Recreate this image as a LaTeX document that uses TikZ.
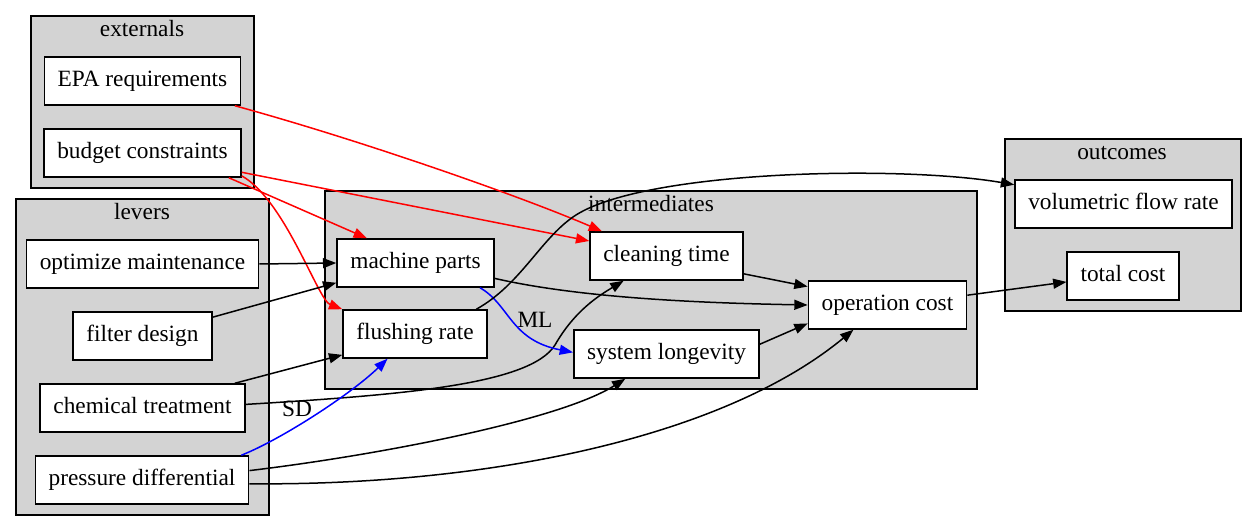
\documentclass[tikz,border=0pt]{standalone}
\usepackage{fontspec}
\setmainfont{Liberation Serif}
\usetikzlibrary{arrows.meta}
\definecolor{clustergray}{RGB}{211, 211, 211}

\tikzset{
  box/.style={draw=black, fill=white, line width=0.9pt, minimum height=28.8pt, inner xsep=8pt,
              text height=9.8pt, text depth=3pt, font=\fontsize{14}{17}\selectfont},
  cluster/.style={draw=black, fill=clustergray, line width=0.9pt},
  title/.style={inner sep=0pt, text height=9.8pt, text depth=3pt, font=\fontsize{14}{17}\selectfont},
  edge/.style={line width=0.9pt, -{Triangle[length=8pt, width=6pt]}},
}

\begin{document}
\begin{tikzpicture}[x=0.6pt, y=-0.6pt]
            \useasboundingbox (0,0) rectangle (1257,531);
            % clusters
            \filldraw[cluster] (  31, 16) rectangle ( 254,188);
            \filldraw[cluster] (  16,199) rectangle ( 269,515);
            \filldraw[cluster] ( 325,191) rectangle ( 977,389);
            \filldraw[cluster] (1005,139) rectangle (1241,311);
            \node[title] (externals)     at ( 142, 31) {externals};
            \node[title] (levers)        at ( 142,214) {levers};
            \node[title] (intermediates) at ( 651,206) {intermediates};
            \node[title] (outcomes)      at (1122,154) {outcomes};
            % nodes
            \node[box] (epa)  at ( 142.5, 81) {EPA requirements};
            \node[box] (bud)  at ( 142.5,153) {budget constraints};
            \node[box] (opt)  at ( 142.5,264) {optimize maintenance};
            \node[box] (fil)  at ( 142.5,336) {filter design};
            \node[box] (chm)  at ( 142.5,408) {chemical treatment};
            \node[box] (prs)  at ( 142,  480) {pressure differential};
            \node[box] (mach) at ( 415.5,263) {machine parts};
            \node[box] (flu)  at ( 415,  334) {flushing rate};
            \node[box] (cln)  at ( 666.5,256) {cleaning time};
            \node[box] (sys)  at ( 666.5,354) {system longevity};
            \node[box] (opc)  at ( 887.5,305) {operation cost};
            \node[box] (vol)  at (1123.5,204) {volumetric flow rate};
            \node[box] (tot)  at (1123,  276) {total cost};
            % edges from externals
            \draw[edge, red]  (epa.-15) .. controls (360,140) and (520,196) .. (cln.159);
            \draw[edge, red]  (bud.-11) -- (cln.169);
            \draw[edge, red]  (bud.-16) -- (mach.153);
            \draw[edge, red]  (bud.-13) .. controls (285,200) and (318,300) .. (flu.north west);
            % edges from levers
            \draw[edge]       (opt.east) -- (mach.west);
            \draw[edge]       (fil.15) -- (mach.194);
            \draw[edge]       (chm.15) -- (flu.196);
            \draw[edge]       (chm.2) .. controls (400,395) and (530,385) .. (555,345)
                                      .. controls (575,310) and (600,295) .. (cln.210);
            \draw[edge]       (prs.5) .. controls (380,455) and (560,420) .. (sys.211);
            \draw[edge]       (prs.-2) .. controls (480,486) and (720,440) .. (opc.216);
            \draw[edge, blue] (prs.14) .. controls (280,440) and (350,395) .. (flu.222);
            \node[title] (sd) at (297,411) {SD};
            % edges from intermediates
            \draw[edge, blue] (mach.-21) .. controls (510,305) and (510,340) .. (sys.179);
            \node[title] (ml) at (535,322) {ML};
            \draw[edge]       (mach.-11) .. controls (580,298) and (700,303) .. (opc.180);
            \draw[edge]       (flu.22) .. controls (520,285) and (540,240) .. (573,217)
                                       .. controls (640,170) and (900,165) .. (vol.170);
            \draw[edge]       (cln.-13) -- (opc.167);
            \draw[edge]       (sys.6) -- (opc.193);
            \draw[edge]       (opc.7) -- (tot.186);
        \end{tikzpicture}
\end{document}
